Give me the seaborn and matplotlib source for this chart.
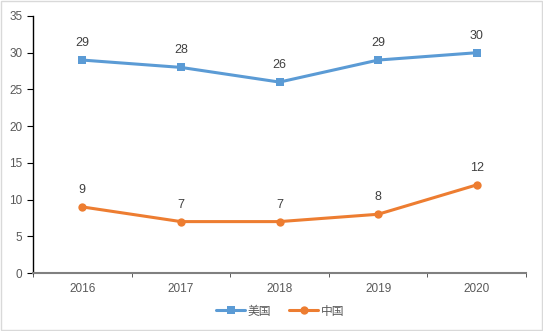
import matplotlib
matplotlib.use("Agg")
import matplotlib.pyplot as plt
import seaborn as sns
import pandas as pd

years = ["2016", "2017", "2018", "2019", "2020"]
us = [29, 28, 26, 29, 30]
cn = [9, 7, 7, 8, 12]
series_names = ["美国", "中国"]

sns.set_style("white")
plt.rcParams['font.family'] = ['Liberation Sans', 'Noto Sans CJK SC', 'DejaVu Sans']

df = pd.DataFrame({
    "pos": list(range(len(years))) * 2,
    "value": us + cn,
    "series": [series_names[0]] * len(years) + [series_names[1]] * len(years),
})

fig = plt.figure(figsize=(5.43, 3.31), dpi=100)
ax = fig.add_axes([33/543, 58/331, (526-33)/543, (273-16)/331])

palette = {series_names[0]: "#5B9BD5", series_names[1]: "#ED7D31"}
sns.lineplot(data=df, x="pos", y="value", hue="series", style="series",
             markers={series_names[0]: "s", series_names[1]: "o"}, dashes=False,
             palette=palette, linewidth=2.2, markersize=6, markeredgewidth=0,
             ax=ax, legend=False)

for i, v in enumerate(us):
    ax.text(i, v + 1.5, str(v), ha="center", va="bottom", fontsize=9, color="#404040")
for i, v in enumerate(cn):
    ax.text(i, v + 1.5, str(v), ha="center", va="bottom", fontsize=9, color="#404040")

ax.set_xlim(-0.5, len(years) - 0.5)
ax.set_ylim(0, 35)
ax.set_yticks(range(0, 36, 5))
ax.set_xticks(range(len(years)))
ax.set_xticklabels(years)
ax.set_xticks([i + 0.5 for i in range(-1, len(years))], minor=True)
ax.tick_params(axis="x", which="major", length=0, pad=7, labelsize=8.5, colors="#595959")
ax.tick_params(axis="x", which="minor", length=3, direction="out", color="#404040", bottom=True)
ax.tick_params(axis="y", which="major", length=4, direction="out", color="#000000", left=True,
               labelsize=8.5, labelcolor="#595959")
ax.set_xlabel("")
ax.set_ylabel("")
for s in ["top", "right"]:
    ax.spines[s].set_visible(False)
ax.spines["left"].set_color("#000000")
ax.spines["left"].set_linewidth(1)
ax.spines["bottom"].set_color("#808080")
ax.spines["bottom"].set_linewidth(1.5)

from matplotlib.lines import Line2D
handles = [Line2D([], [], color="#5B9BD5", marker="s", lw=2.2, markersize=6, markeredgewidth=0),
           Line2D([], [], color="#ED7D31", marker="o", lw=2.2, markersize=6, markeredgewidth=0)]
leg = fig.legend(handles, series_names, loc="center", bbox_to_anchor=(280/543, 1 - 311/331),
                 ncol=2, frameon=False, fontsize=8.5, handlelength=2.5, columnspacing=1.5,
                 handletextpad=0.2, prop={'family': ['Noto Sans CJK SC', 'DejaVu Sans'], 'size': 8.5})
for t in leg.get_texts():
    t.set_color("#595959")

fig.patches.append(plt.Rectangle((0.002, 0.003), 0.996, 0.994, transform=fig.transFigure,
                                 fill=False, edgecolor="#D9D9D9", linewidth=1))

fig.savefig("out.png", dpi=100)
